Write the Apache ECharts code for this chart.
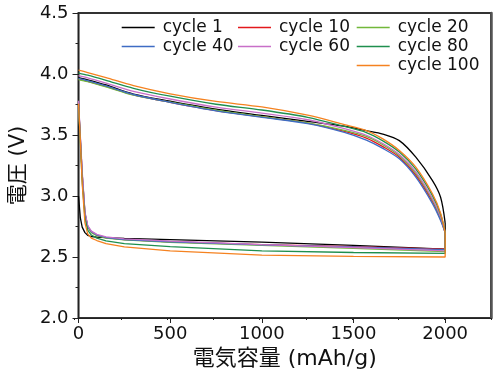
<!DOCTYPE html>
<html><head><meta charset="utf-8">
<script src="https://cdn.jsdelivr.net/npm/echarts@6/dist/echarts.min.js"></script>
<style>html,body{margin:0;padding:0;background:#fff}#c{width:500px;height:380px}</style>
</head><body><div id="c"></div>
<script>
// capacity sample points (mAh/g)
var capUpper = [0, 50, 150, 300, 500, 750, 1000, 1250, 1450, 1570, 1660, 1750, 1840, 1930, 1975, 2000];
var capLower = [2000, 1500, 1000, 500, 250, 150, 100, 70, 50, 35, 20, 10, 0];

var cycleNames = ['cycle 1', 'cycle 10', 'cycle 20', 'cycle 40', 'cycle 60', 'cycle 80', 'cycle 100'];
var cycleColors = ['#000000', '#e3191c', '#72b83a', '#3f6cc4', '#c86fc8', '#1f8f4e', '#f58220'];

// upper branch voltages (V) on capUpper
var upper1   = [3.970, 3.952, 3.910, 3.836, 3.778, 3.712, 3.660, 3.612, 3.572, 3.536, 3.508, 3.454, 3.318, 3.128, 2.990, 2.780];
var upper10  = [3.958, 3.940, 3.898, 3.828, 3.768, 3.700, 3.648, 3.598, 3.530, 3.475, 3.405, 3.318, 3.170, 2.955, 2.810, 2.700];
var upper20  = [3.955, 3.938, 3.895, 3.826, 3.770, 3.703, 3.650, 3.600, 3.538, 3.488, 3.420, 3.330, 3.185, 2.970, 2.820, 2.700];
var upper40  = [3.965, 3.946, 3.902, 3.832, 3.768, 3.698, 3.645, 3.594, 3.522, 3.458, 3.390, 3.305, 3.155, 2.940, 2.800, 2.700];
var upper60  = [3.986, 3.968, 3.925, 3.858, 3.795, 3.728, 3.680, 3.625, 3.552, 3.498, 3.430, 3.340, 3.198, 2.980, 2.830, 2.700];
var upper80  = [4.008, 3.990, 3.948, 3.883, 3.818, 3.752, 3.705, 3.645, 3.570, 3.520, 3.452, 3.360, 3.220, 3.005, 2.850, 2.700];
var upper100 = [4.032, 4.012, 3.970, 3.905, 3.838, 3.775, 3.730, 3.662, 3.585, 3.536, 3.468, 3.373, 3.236, 3.020, 2.860, 2.700];

// lower branch voltages (V) on capLower
var lower1   = [2.565, 2.595, 2.622, 2.642, 2.652, 2.658, 2.663, 2.668, 2.678, 2.700, 2.745, 2.820, 3.000];
var lower10  = [2.565, 2.585, 2.602, 2.625, 2.642, 2.658, 2.678, 2.705, 2.750, 2.860, 3.180, 3.470, 3.760];
var lower20  = [2.545, 2.570, 2.595, 2.620, 2.640, 2.655, 2.675, 2.700, 2.745, 2.850, 3.170, 3.460, 3.750];
var lower40  = [2.560, 2.582, 2.600, 2.625, 2.643, 2.660, 2.680, 2.708, 2.752, 2.860, 3.180, 3.470, 3.770];
var lower60  = [2.550, 2.578, 2.602, 2.630, 2.648, 2.665, 2.685, 2.712, 2.758, 2.870, 3.200, 3.490, 3.780];
var lower80  = [2.530, 2.537, 2.550, 2.585, 2.610, 2.632, 2.655, 2.680, 2.720, 2.820, 3.120, 3.440, 3.750];
var lower100 = [2.500, 2.505, 2.515, 2.550, 2.583, 2.610, 2.635, 2.655, 2.690, 2.780, 3.100, 3.450, 3.757];

var xTicks = [0, 500, 1000, 1500, 2000];
var yTicks = [2.0, 2.5, 3.0, 3.5, 4.0, 4.5];
var xRange = [0, 2250];
var yRange = [2, 4.5];

var uppers = [upper1, upper10, upper20, upper40, upper60, upper80, upper100];
var lowers = [lower1, lower10, lower20, lower40, lower60, lower80, lower100];

var FONT = "'DejaVu Sans', 'Noto Sans CJK JP', sans-serif";
var series = [];
cycleNames.forEach(function (name, k) {
  var up = capUpper.map(function (c, i) { return [c, uppers[k][i]]; });
  var lo = [[2000, uppers[k][uppers[k].length - 1]]].concat(capLower.map(function (c, i) { return [c, lowers[k][i]]; }));
  var common = { name: name, type: 'line', showSymbol: false, symbol: 'none', color: cycleColors[k],
    xAxisIndex: 0, yAxisIndex: 0,
    lineStyle: { width: 1.3, color: cycleColors[k] }, itemStyle: { color: cycleColors[k] }, z: 2 + k, animation: false };
  series.push(Object.assign({ data: up, smooth: 0.3 }, common));
  series.push(Object.assign({ data: lo, smooth: false }, common));
});

function legendCol(left, names) {
  return { orient: 'vertical', left: left, top: 18, padding: 0, itemGap: 0, itemWidth: 33, itemHeight: 1.5,
    icon: 'rect', data: names, selectedMode: false,
    textStyle: { fontFamily: FONT, fontSize: 17, color: '#111', lineHeight: 19, padding: [0, 0, 0, 3] } };
}

var gridBox = { left: 74.5, right: 9, top: 13, bottom: 62, containLabel: false };

var chart = echarts.init(document.getElementById('c'), null, { renderer: 'canvas' });
chart.setOption({
  animation: false,
  grid: [
    Object.assign({ show: true, borderWidth: 2, borderColor: '#333', backgroundColor: 'rgba(0,0,0,0)' }, gridBox),
    Object.assign({ show: false }, gridBox)
  ],
  legend: [
    legendCol(121.7, ['cycle 1', 'cycle 40']),
    legendCol(238, ['cycle 10', 'cycle 60']),
    legendCol(356.7, ['cycle 20', 'cycle 80', 'cycle 100'])
  ],
  xAxis: [
    { type: 'value', gridIndex: 0, min: xRange[0], max: xRange[1], interval: 500, position: 'bottom',
      name: '電気容量 (mAh/g)', nameLocation: 'middle', nameGap: 24,
      nameTextStyle: { fontFamily: FONT, fontSize: 22, color: '#111' },
      axisLine: { show: true, onZero: false, lineStyle: { color: '#222', width: 1.2 } },
      axisTick: { show: true, inside: false, length: 5, lineStyle: { color: '#222' } },
      axisLabel: { margin: 7, fontFamily: FONT, fontSize: 18, color: '#111', showMaxLabel: false,
        formatter: function (v) { return xTicks.indexOf(v) >= 0 ? String(v) : ''; } },
      splitLine: { show: false } },
    { type: 'value', gridIndex: 1, min: xRange[0], max: xRange[1], interval: 250, position: 'bottom',
      axisLine: { show: false }, axisLabel: { show: false }, splitLine: { show: false },
      axisTick: { show: true, length: 2, lineStyle: { color: '#222' } } }
  ],
  yAxis: [
    { type: 'value', gridIndex: 0, min: yRange[0], max: yRange[1], interval: 0.5, position: 'left',
      name: '電圧 (V)', nameLocation: 'middle', nameGap: 48,
      nameTextStyle: { fontFamily: FONT, fontSize: 21, color: '#111' },
      axisLine: { show: true, onZero: false, lineStyle: { color: '#222', width: 1.2 } },
      axisTick: { show: true, inside: false, length: 6, lineStyle: { color: '#222' } },
      minorTick: { show: true, splitNumber: 2, length: 3, lineStyle: { color: '#222' } },
      axisLabel: { margin: 10, fontFamily: FONT, fontSize: 18, color: '#111',
        formatter: function (v) { return v.toFixed(1); } },
      splitLine: { show: false } },
    { type: 'value', gridIndex: 0, min: yRange[0], max: yRange[1], position: 'right',
      axisLine: { show: true, onZero: false, lineStyle: { color: '#555', width: 2.5 } },
      axisTick: { show: false }, axisLabel: { show: false }, splitLine: { show: false } },
    { type: 'value', gridIndex: 1, min: yRange[0], max: yRange[1], show: false }
  ],
  series: series
});
</script></body></html>
